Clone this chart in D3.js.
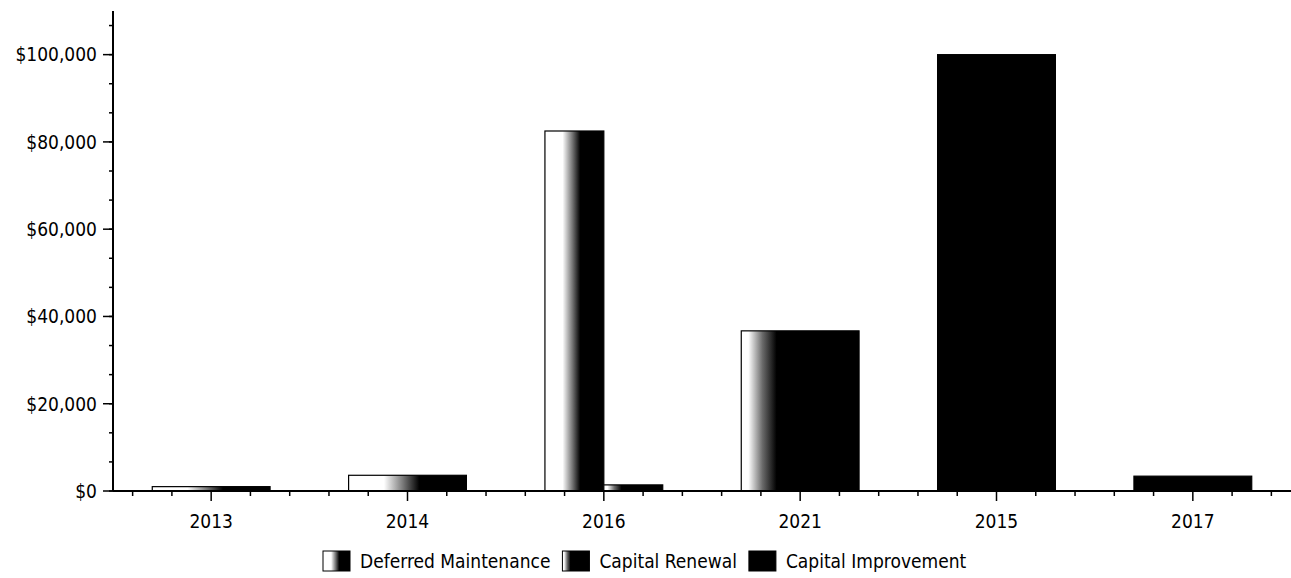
<!DOCTYPE html>
<html>
<head>
<meta charset="utf-8">
<script src="https://cdn.jsdelivr.net/npm/d3@7"></script>
<style>
  body { margin: 0; background: #fff; }
  text { font-family: "DejaVu Sans Condensed", "DejaVu Sans", sans-serif; fill: #000; }
</style>
</head>
<body>
<svg id="chart" width="1291" height="578"></svg>
<script>
// Cost by year, three funding categories (null = no entry for that year)
const categories = ["2013", "2014", "2016", "2021", "2015", "2017"];
const seriesNames = ["Deferred Maintenance", "Capital Renewal", "Capital Improvement"];
const deferredMaintenance = [1000, 3600, 82500, null, null, null];
const capitalRenewal      = [null, null, 1400, 36700, null, null];
const capitalImprovement  = [null, null, null, null, 100000, 3400];
const yTickValues = [0, 20000, 40000, 60000, 80000, 100000];

const seriesValues = [deferredMaintenance, capitalRenewal, capitalImprovement];

const W = 1291, H = 578;
const margin = { left: 113, right: 0, top: 11, bottom: 87 };
const fontSize = 19;
const svg = d3.select("#chart");

// horizontal white-to-dark fills for each series
const defs = svg.append("defs");
const fills = [
  [[0, "#fff"], [0.30, "#fff"], [0.46, "#7a7a7a"], [0.60, "#000"], [1, "#000"]],
  [[0, "#fff"], [0.06, "#fff"], [0.18, "#6a6a6a"], [0.30, "#000"], [1, "#000"]],
  [[0, "#000"], [1, "#000"]]
];
fills.forEach((stops, i) => {
  const g = defs.append("linearGradient").attr("id", "fill" + i)
    .attr("x1", "0%").attr("x2", "100%").attr("y1", "0%").attr("y2", "0%");
  stops.forEach(([o, c]) => g.append("stop").attr("offset", o).attr("stop-color", c));
});

const x = d3.scaleBand().domain(categories)
  .range([margin.left, W - margin.right])
  .paddingInner(0.4).paddingOuter(0.2);
const xIndex = d3.scaleLinear().domain([0.5, categories.length + 0.5])
  .range([margin.left, W - margin.right]);
const y = d3.scaleLinear().domain([0, 110000]).range([H - margin.bottom, margin.top]);
const y0 = y(0);

// bars: each year splits its slot among the series that have a value
const barG = svg.append("g");
categories.forEach((cat, ci) => {
  const present = seriesValues.map((vals, si) => si).filter(si => seriesValues[si][ci] != null);
  const sub = d3.scaleBand().domain(present).range([x(cat), x(cat) + x.bandwidth()]);
  present.forEach(si => {
    const v = seriesValues[si][ci];
    barG.append("rect")
      .attr("x", sub(si))
      .attr("y", y(v))
      .attr("width", sub.bandwidth())
      .attr("height", y0 - y(v))
      .attr("fill", `url(#fill${si})`)
      .attr("stroke", "#000")
      .attr("stroke-width", 1.2);
  });
});

// y axis
const yAxis = svg.append("g").attr("transform", `translate(${margin.left},0)`);
yAxis.append("line").attr("x1", 0).attr("x2", 0).attr("y1", margin.top).attr("y2", y0)
  .attr("stroke", "#000").attr("stroke-width", 2);
const yMinor = d3.range(0, 110000, 20000 / 3);
yAxis.selectAll(".ym").data(yMinor).join("line")
  .attr("x1", -4).attr("x2", 0).attr("y1", d => y(d)).attr("y2", d => y(d))
  .attr("stroke", "#000").attr("stroke-width", 1.5);
yAxis.selectAll(".yM").data(yTickValues).join("line")
  .attr("x1", -10).attr("x2", 0).attr("y1", d => y(d)).attr("y2", d => y(d))
  .attr("stroke", "#000").attr("stroke-width", 1.5);
const money = v => "$" + d3.format(",")(v);
yAxis.selectAll(".yl").data(yTickValues).join("text")
  .attr("x", -16).attr("y", d => y(d)).attr("dy", "0.36em")
  .attr("text-anchor", "end").attr("font-size", fontSize)
  .text(money);

// x axis
const xAxis = svg.append("g");
xAxis.append("line").attr("x1", margin.left).attr("x2", W).attr("y1", y0).attr("y2", y0)
  .attr("stroke", "#000").attr("stroke-width", 2);
const xMinor = d3.range(0.6, categories.length + 0.5, 0.2)
  .filter(t => Math.abs(t - Math.round(t)) > 0.05);
xAxis.selectAll(".xm").data(xMinor).join("line")
  .attr("x1", d => xIndex(d)).attr("x2", d => xIndex(d)).attr("y1", y0).attr("y2", y0 + 5)
  .attr("stroke", "#000").attr("stroke-width", 1.5);
xAxis.selectAll(".xM").data(categories).join("line")
  .attr("x1", d => x(d) + x.bandwidth() / 2).attr("x2", d => x(d) + x.bandwidth() / 2)
  .attr("y1", y0).attr("y2", y0 + 10)
  .attr("stroke", "#000").attr("stroke-width", 1.5);
xAxis.selectAll(".xl").data(categories).join("text")
  .attr("x", d => x(d) + x.bandwidth() / 2).attr("y", y0 + 37)
  .attr("text-anchor", "middle").attr("font-size", fontSize)
  .text(d => d);

// legend
const legend = svg.append("g");
let lx = 0;
const swW = 27, swH = 20, gap = 10, itemGap = 12;
seriesNames.forEach((name, i) => {
  const item = legend.append("g").attr("transform", `translate(${lx},0)`);
  item.append("rect").attr("x", 0).attr("y", -swH / 2).attr("width", swW).attr("height", swH)
    .attr("fill", `url(#fill${i})`).attr("stroke", "#000").attr("stroke-width", 1);
  const t = item.append("text").attr("x", swW + gap).attr("y", 0).attr("dy", "0.36em")
    .attr("font-size", fontSize).text(name);
  lx += swW + gap + t.node().getComputedTextLength() + itemGap;
});
const legendWidth = lx - itemGap;
legend.attr("transform", `translate(${Math.round(645 - legendWidth / 2)},561)`);
</script>
</body>
</html>
